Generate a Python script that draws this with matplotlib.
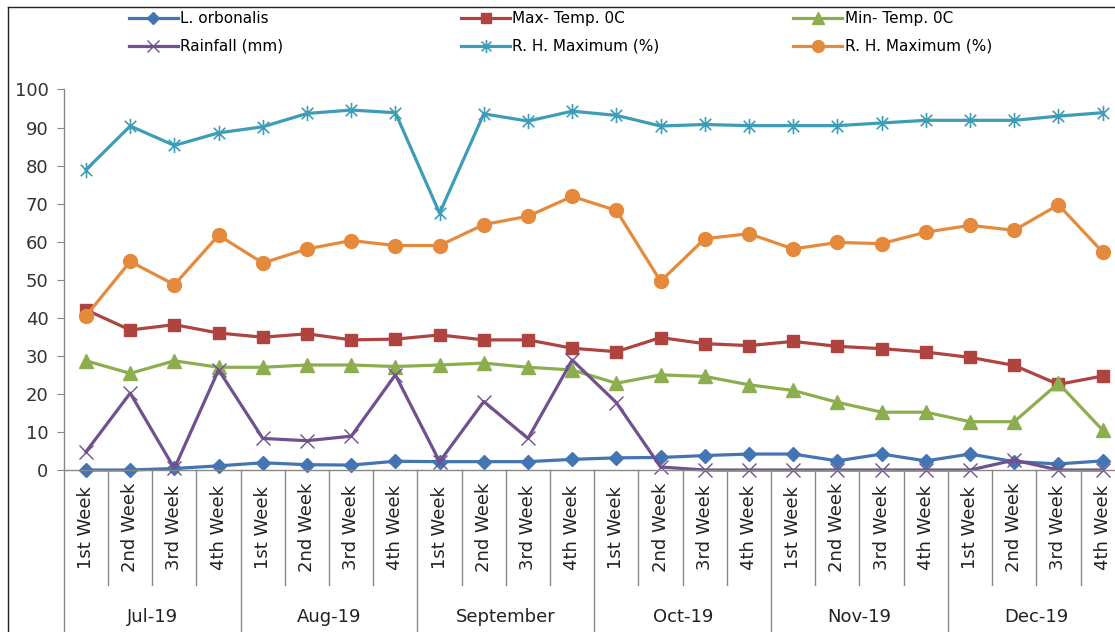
import matplotlib
matplotlib.use("Agg")
import matplotlib.pyplot as plt
from matplotlib.lines import Line2D
from matplotlib.path import Path
from matplotlib.transforms import blended_transform_factory

weeks = ["1st Week", "2nd Week", "3rd Week", "4th Week"] * 6
months = ["Jul-19", "Aug-19", "September", "Oct-19", "Nov-19", "Dec-19"]

orbonalis = [0, 0, 0.4, 1.1, 1.9, 1.4, 1.3, 2.3, 2.2, 2.2, 2.2, 2.8,
             3.2, 3.3, 3.8, 4.2, 4.2, 2.4, 4.2, 2.4, 4.2, 2.2, 1.6, 2.4]
max_temp = [42.1, 36.8, 38.2, 36.0, 34.9, 35.8, 34.2, 34.4, 35.5, 34.2, 34.2, 32.0,
            31.1, 34.8, 33.2, 32.7, 33.8, 32.5, 31.9, 31.0, 29.6, 27.5, 22.5, 24.7]
min_temp = [28.7, 25.4, 28.7, 27.0, 27.0, 27.6, 27.6, 27.2, 27.6, 28.1, 27.0, 26.3,
            22.8, 25.0, 24.6, 22.4, 20.9, 17.8, 15.2, 15.2, 12.7, 12.7, 22.8, 10.5]
rainfall = [4.8, 20.2, 0.4, 26.3, 8.3, 7.7, 8.9, 25.0, 2.2, 18.0, 8.3, 28.9,
            17.7, 0.8, 0, 0, 0, 0, 0, 0, 0, 2.6, 0, 0]
rh_max = [78.9, 90.4, 85.3, 88.6, 90.2, 93.7, 94.6, 93.9, 67.5, 93.6, 91.7, 94.3,
          93.2, 90.4, 90.8, 90.5, 90.5, 90.5, 91.2, 91.9, 91.9, 91.9, 93.0, 93.9]
rh_max2 = [40.5, 54.8, 48.7, 61.7, 54.4, 58.1, 60.3, 59.0, 59.0, 64.5, 66.7, 71.9,
           68.2, 49.6, 60.8, 62.1, 58.1, 59.8, 59.5, 62.5, 64.3, 63.0, 69.7, 57.3]

# star marker: vertical bar plus an x
star = Path([(0, -1), (0, 1), (-0.75, -0.75), (0.75, 0.75), (-0.75, 0.75), (0.75, -0.75)],
            [Path.MOVETO, Path.LINETO, Path.MOVETO, Path.LINETO, Path.MOVETO, Path.LINETO])

series = [
    ("L. orbonalis", orbonalis, "#4374B3", "D", 7.5, 1),
    ("Max- Temp. 0C", max_temp, "#AE4340", "s", 9, 1),
    ("Min- Temp. 0C", min_temp, "#8CAE4E", "^", 10, 1),
    ("Rainfall (mm)", rainfall, "#71508F", "x", 10, 1.0),
    ("R. H. Maximum (%)", rh_max, "#3E9DB6", star, 11, 1.2),
    ("R. H. Maximum (%)", rh_max2, "#E58A3C", "o", 10, 1),
]

fig = plt.figure(figsize=(11.15, 6.32), dpi=100)
ax = fig.add_axes([0.0573, 0.2563, 0.9514, 0.6021])

x = list(range(len(weeks)))
handles = []
for label, vals, col, mk, ms, mew in series:
    h, = ax.plot(x, vals, color=col, lw=2.3, marker=mk, markersize=ms,
                 markeredgewidth=mew, markerfacecolor=col, markeredgecolor=col,
                 label=label, clip_on=False)
    handles.append(h)

ax.set_xlim(-0.5, len(weeks) - 0.5)
ax.set_ylim(0, 100)
ax.set_yticks(range(0, 101, 10))
ax.tick_params(axis="y", direction="out", length=5, color="#888888",
               labelsize=13, labelcolor="#333333", pad=6)
ax.tick_params(axis="x", length=0, labelbottom=False)
for s in ["top", "right"]:
    ax.spines[s].set_visible(False)
for s in ["left", "bottom"]:
    ax.spines[s].set_color("#888888")
    ax.spines[s].set_linewidth(1)

# two-level category axis: weeks, then months
trans = blended_transform_factory(ax.transData, ax.transAxes)
for i in range(len(weeks) + 1):
    bottom = -0.45 if i % 4 == 0 else -0.302
    ax.plot([i - 0.5, i - 0.5], [0, bottom], color="#888888", lw=1,
            transform=trans, clip_on=False)
for i, w in enumerate(weeks):
    ax.text(i, -0.15, w, transform=trans, rotation=90, ha="center", va="center",
            fontsize=13, color="#222222")
for m, name in enumerate(months):
    ax.text(4 * m + 1.5, -0.386, name, transform=trans, ha="center", va="center",
            fontsize=13, color="#222222")

# legend laid out in three columns
col_x = [0.106, 0.404, 0.702]
for k in range(3):
    fig.legend(handles=[handles[k], handles[k + 3]], loc="upper left",
               bbox_to_anchor=(col_x[k], 0.999), frameon=False, fontsize=11,
               handlelength=3.2, handletextpad=0.15, labelspacing=0.82,
               borderaxespad=0.3, markerscale=0.85)

# chart area border
fig.add_artist(Line2D([8 / 1115, 8 / 1115], [0, 1 - 7 / 632], color="#222222", lw=1))
fig.add_artist(Line2D([8 / 1115, 1], [1 - 7 / 632, 1 - 7 / 632], color="#222222", lw=1))

fig.savefig("out.png", dpi=100)
